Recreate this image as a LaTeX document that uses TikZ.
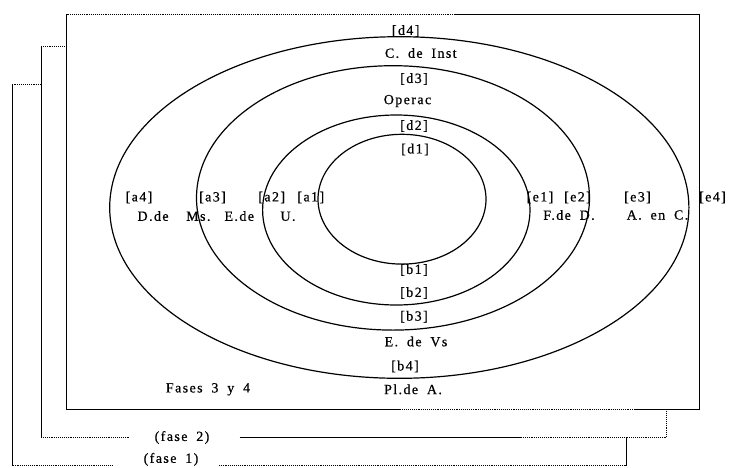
\documentclass[tikz,border=0pt]{standalone}
\usepackage{fontspec}
\setmainfont{Liberation Serif}[LetterSpace=10,WordSpace=1.8,FakeBold=0.6]
\begin{document}
\begin{tikzpicture}[x=1pt,y=-1pt,
  lbl/.style={inner sep=0pt,font=\fontsize{14}{16}\selectfont},
  ell/.style={line width=1.2pt},
  fr/.style={line width=0.9pt},
  frdot/.style={line width=0.9pt,densely dotted}]
\useasboundingbox (0,0) rectangle (729,467);
% ellipses
\draw[ell] (399.3,207.5) ellipse [x radius=289.6pt, y radius=170.8pt];
\draw[ell] (393,197.9) ellipse [x radius=196.5pt, y radius=132.2pt];
\draw[ell] (396.3,210) ellipse [x radius=133.7pt, y radius=95pt];
\draw[ell] (402,199.2) ellipse [x radius=84pt, y radius=64.9pt];
% frame 3 (fases 3 y 4)
\draw[frdot] (66.5,14) -- (455,14);
\draw[fr] (455,14) -- (699.5,14) -- (699.5,409) -- (635,409);
\draw[frdot] (635,409) -- (400,409);
\draw[fr] (400,409) -- (66.5,409) -- (66.5,14);
% frame 2
\node[lbl] (fase2) at (182,437.5) {(fase 2)};
\draw[frdot] (66.5,46) -- (41,46);
\draw[fr] (41,46) -- (41,437.5);
\draw[frdot] (41,437.5) -- (130,437.5);
\draw[fr] (239.5,437.5) -- (521,437.5);
\draw[frdot] (521,437.5) -- (666.7,437.5) -- (666.7,409);
% frame 1
\node[lbl,anchor=south] (fase1) at (171,466) {(fase 1)};
\draw[frdot] (41,84) -- (12.7,84);
\draw[fr] (12.7,84) -- (12.7,465.5);
\draw[frdot] (12.7,465.5) -- (112,465.5);
\draw[frdot] (218.8,465.5) -- (626,465.5);
\draw[fr] (626,465.5) -- (626,437.5);
% top labels
\node[lbl] (d4) at (405.7,31) {[d4]};
\node[lbl] (cinst) at (420.8,53) {C. de Inst};
\node[lbl] (d3) at (414,79) {[d3]};
\node[lbl] (operac) at (407.5,101) {Operac};
\node[lbl] (d2) at (414,126) {[d2]};
\node[lbl] (d1) at (415,149.5) {[d1]};
% left labels
\node[lbl] (a4) at (139,197.5) {[a4]};
\node[lbl] (a3) at (212.5,197.5) {[a3]};
\node[lbl] (a2) at (271.7,197.5) {[a2]};
\node[lbl] (a1) at (310.8,197.5) {[a1]};
\node[lbl] (dms) at (174,216) {D.de\ \ Ms.};
\node[lbl] (edu) at (260,216) {E.de\ \ \ U.};
% right labels
\node[lbl] (e1) at (540,197.5) {[e1]};
\node[lbl] (e2) at (577.5,197.5) {[e2]};
\node[lbl] (e3) at (637.5,197.5) {[e3]};
\node[lbl] (e4) at (712.5,197.5) {[e4]};
\node[lbl] (fdd) at (569,215) {F.de\ D.};
\node[lbl] (aenc) at (657.5,215) {A.\ en\ C.};
% bottom labels
\node[lbl] (b1) at (414,270) {[b1]};
\node[lbl] (b2) at (414,293) {[b2]};
\node[lbl] (b3) at (414,316.7) {[b3]};
\node[lbl] (edvs) at (416,341.5) {E. de Vs};
\node[lbl] (b4) at (405,366.5) {[b4]};
\node[lbl] (plda) at (413,389.3) {Pl.de A.};
\node[lbl] (fases) at (208,389.3) {Fases 3 y 4};
\end{tikzpicture}
\end{document}
